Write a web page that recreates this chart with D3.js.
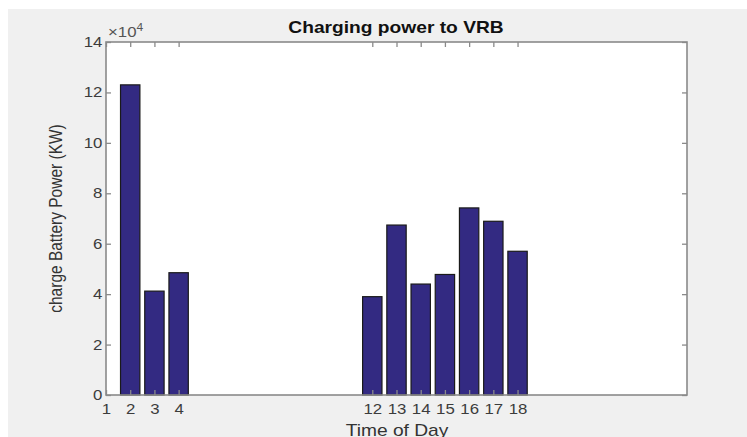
<!DOCTYPE html>
<html>
<head>
<meta charset="utf-8">
<script src="https://cdn.jsdelivr.net/npm/d3@7"></script>
<style>
  html, body { margin: 0; padding: 0; background: #fff; }
  svg { display: block; }
  text { font-family: "Liberation Sans", Arial, sans-serif; }
</style>
</head>
<body>
<svg id="chart" width="747" height="437"></svg>
<script>
// hours of the day that have a charge value
const hours = [2, 3, 4, 12, 13, 14, 15, 16, 17, 18];
// charge battery power, in units of 1e4 KW
const power = [12.3, 4.12, 4.85, 3.9, 6.74, 4.4, 4.78, 7.42, 6.89, 5.7];
const xTicks = [1, 2, 3, 4, 12, 13, 14, 15, 16, 17, 18];
const yTicks = [0, 2, 4, 6, 8, 10, 12, 14];

let svg = d3.select("#chart");
let W = +svg.attr("width"), H = +svg.attr("height");
const stretch = 1.2; // the source image is a bit wider than tall

// figure background (gray panel with thin white strip top/left)
svg.append("rect").attr("width", W).attr("height", H).attr("fill", "#fff");
svg.append("rect").attr("x", 8).attr("y", 9).attr("width", W - 8).attr("height", H - 9).attr("fill", "#f0f0f0");

const pL = 106, pR = 687, pT = 42, pB = 395;

let x = d3.scaleLinear().domain([1, 25]).range([pL, pR]);
let y = d3.scaleLinear().domain([0, 14]).range([pB, pT]);

svg.append("rect")
    .attr("x", pL).attr("y", pT)
    .attr("width", pR - pL).attr("height", pB - pT)
    .attr("fill", "#fff");

let barW = x(1.8) - x(1);
svg.append("g")
  .selectAll("rect")
  .data(hours)
  .enter().append("rect")
    .attr("x", function(d) { return x(d) - barW / 2; })
    .attr("y", function(d, i) { return y(power[i]); })
    .attr("width", barW)
    .attr("height", function(d, i) { return y(0) - y(power[i]); })
    .attr("fill", "#332a82")
    .attr("stroke", "#1a1a1a")
    .attr("stroke-width", 1.2);

const axisColor = "#8a8a8a";
function styleAxis(g) {
  g.select(".domain").remove();
  g.selectAll(".tick line").attr("stroke", axisColor).attr("stroke-width", 1.3);
  g.selectAll(".tick text").attr("fill", "#3c3c3c").style("font-size", "14px")
    .attr("transform", `scale(${stretch},1)`);
}

// bottom and top axes
svg.append("g").attr("transform", `translate(0,${pB})`)
  .call(d3.axisBottom(x).tickValues(xTicks).tickSize(-5).tickPadding(9).tickFormat(d3.format("d")))
  .call(styleAxis);
svg.append("g").attr("transform", `translate(0,${pT})`)
  .call(d3.axisTop(x).tickValues(xTicks).tickSize(-5).tickFormat(""))
  .call(styleAxis);

// left and right axes
svg.append("g").attr("transform", `translate(${pL},0)`)
  .call(d3.axisLeft(y).tickValues(yTicks).tickSize(-5).tickPadding(3).tickFormat(d3.format("d")))
  .call(styleAxis);
svg.append("g").attr("transform", `translate(${pR},0)`)
  .call(d3.axisRight(y).tickValues(yTicks).tickSize(-5).tickFormat(""))
  .call(styleAxis);

// box
svg.append("rect")
    .attr("x", pL).attr("y", pT)
    .attr("width", pR - pL).attr("height", pB - pT)
    .attr("fill", "none")
    .attr("stroke", axisColor)
    .attr("stroke-width", 1.6);

function label(tx, ty, rot) {
  return svg.append("text")
    .attr("transform", `translate(${tx},${ty}) rotate(${rot}) scale(${rot ? 1 : stretch},${rot ? stretch : 1})`);
}

// exponent
let ex = label(pL + 2, pT - 5, 0).attr("fill", "#555").style("font-size", "14px");
ex.append("tspan").text("\u00d710");
ex.append("tspan").attr("dy", -6).style("font-size", "10px").text("4");

label(396, 33, 0)
    .attr("text-anchor", "middle")
    .attr("fill", "#111")
    .style("font-size", "16px").style("font-weight", "bold")
    .text("Charging power to VRB");

label(397, 436, 0)
    .attr("text-anchor", "middle")
    .attr("fill", "#333")
    .style("font-size", "16px")
    .text("Time of Day");

label(62, (pT + pB) / 2, -90)
    .attr("text-anchor", "middle")
    .attr("fill", "#333")
    .style("font-size", "15.5px")
    .text("charge Battery Power (KW)");
</script>
</body>
</html>
